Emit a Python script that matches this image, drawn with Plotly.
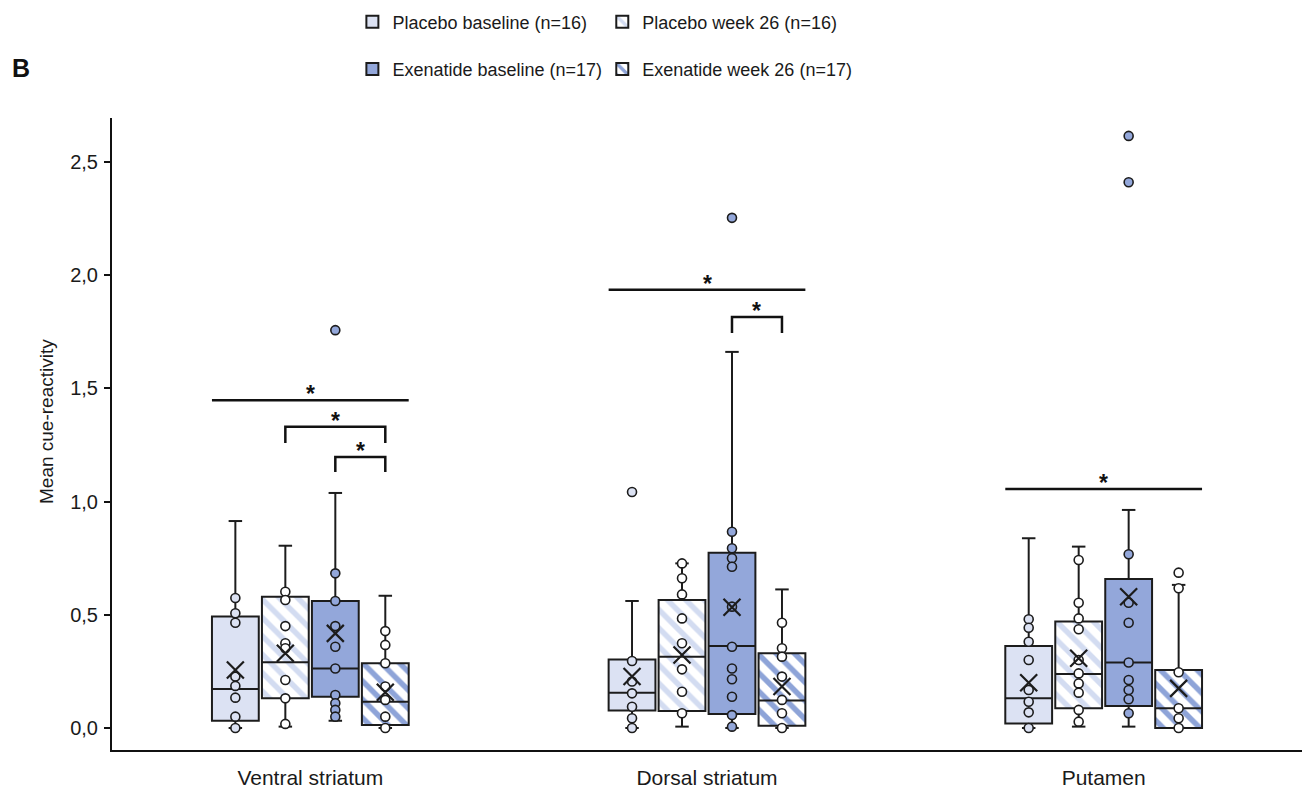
import plotly.graph_objects as go

# ---------------- data ----------------
regions = ["Ventral striatum", "Dorsal striatum", "Putamen"]
series_names = ["Placebo baseline (n=16)", "Placebo week 26 (n=16)",
                "Exenatide baseline (n=17)", "Exenatide week 26 (n=17)"]
y_title = "Mean cue-reactivity"
y_ticks = [0, 0.5, 1.0, 1.5, 2.0, 2.5]

# Placebo baseline
pb_q1 = [0.032, 0.077, 0.020]
pb_med = [0.172, 0.156, 0.131]
pb_q3 = [0.492, 0.303, 0.362]
pb_lo = [0.000, 0.000, 0.000]
pb_hi = [0.914, 0.561, 0.838]
pb_mean = [0.256, 0.227, 0.200]
pb_pts = [[0.574, 0.507, 0.465, 0.227, 0.186, 0.134, 0.050, 0.000],
          [1.042, 0.296, 0.205, 0.153, 0.094, 0.043, 0.000],
          [0.480, 0.443, 0.381, 0.300, 0.168, 0.116, 0.069, 0.000]]

# Placebo week 26
pw_q1 = [0.131, 0.075, 0.087]
pw_med = [0.290, 0.315, 0.239]
pw_q3 = [0.580, 0.565, 0.470]
pw_lo = [0.006, 0.006, 0.006]
pw_hi = [0.805, 0.727, 0.801]
pw_mean = [0.330, 0.322, 0.308]
pw_pts = [[0.602, 0.565, 0.450, 0.374, 0.352, 0.212, 0.131, 0.018],
          [0.727, 0.661, 0.590, 0.484, 0.374, 0.259, 0.160, 0.065],
          [0.742, 0.553, 0.484, 0.436, 0.300, 0.241, 0.197, 0.156, 0.080, 0.028]]

# Exenatide baseline
eb_q1 = [0.138, 0.062, 0.097]
eb_med = [0.263, 0.362, 0.289]
eb_q3 = [0.561, 0.774, 0.658]
eb_lo = [0.032, 0.000, 0.006]
eb_hi = [1.038, 1.661, 0.963]
eb_mean = [0.418, 0.533, 0.580]
eb_pts = [[1.757, 0.683, 0.561, 0.450, 0.359, 0.263, 0.146, 0.109, 0.080, 0.050],
          [2.253, 0.867, 0.794, 0.750, 0.712, 0.536, 0.359, 0.263, 0.215, 0.138, 0.057, 0.006],
          [2.615, 2.410, 0.767, 0.553, 0.465, 0.289, 0.212, 0.168, 0.127, 0.065]]

# Exenatide week 26
ew_q1 = [0.013, 0.010, 0.000]
ew_med = [0.116, 0.121, 0.087]
ew_q3 = [0.286, 0.330, 0.256]
ew_lo = [0.000, 0.000, 0.000]
ew_hi = [0.584, 0.612, 0.632]
ew_mean = [0.158, 0.183, 0.175]
ew_pts = [[0.428, 0.367, 0.286, 0.183, 0.124, 0.050, 0.000],
          [0.465, 0.352, 0.315, 0.227, 0.124, 0.065, 0.000],
          [0.686, 0.617, 0.246, 0.087, 0.043, 0.000]]

# significance markers: (region, from series, to series, height, drop height or None)
sig_region = [0, 0, 0, 1, 1, 2]
sig_from = [0, 1, 2, 0, 2, 0]
sig_to = [3, 3, 3, 3, 3, 3]
sig_y = [1.447, 1.330, 1.197, 1.935, 1.815, 1.056]
sig_drop = [None, 1.259, 1.131, None, 1.745, None]
sig_label = ["*", "*", "*", "*", "*", "*"]

# ---------------- styling ----------------
offsets = [-0.189, -0.063, 0.063, 0.189]
box_w = 0.118
cap_w = 0.034
edge = "#1c1c1c"
c_light = "#dce2f3"
c_dark = "#93a7da"
fills = [c_light, "white", c_dark, "white"]
patterns = [None, "#d3dcf1", None, "#8ea4d8"]
point_fill = [c_light, "white", c_dark, "white"]

Q1 = [pb_q1, pw_q1, eb_q1, ew_q1]
MED = [pb_med, pw_med, eb_med, ew_med]
Q3 = [pb_q3, pw_q3, eb_q3, ew_q3]
LO = [pb_lo, pw_lo, eb_lo, ew_lo]
HI = [pb_hi, pw_hi, eb_hi, ew_hi]
MEAN = [pb_mean, pw_mean, eb_mean, ew_mean]
PTS = [pb_pts, pw_pts, eb_pts, ew_pts]

fig = go.Figure()
font_family = "Arial, Liberation Sans, sans-serif"

legend_names = ["legend", "legend2", "legend3", "legend4"]

for s in range(4):
    xs = [r + offsets[s] for r in range(3)]
    # whiskers + caps
    wx, wy = [], []
    for r in range(3):
        x0 = xs[r]
        wx += [x0, x0, None, x0 - cap_w / 2, x0 + cap_w / 2, None,
               x0, x0, None, x0 - cap_w / 2, x0 + cap_w / 2, None]
        wy += [Q3[s][r], HI[s][r], None, HI[s][r], HI[s][r], None,
               Q1[s][r], LO[s][r], None, LO[s][r], LO[s][r], None]
    fig.add_trace(go.Scatter(x=wx, y=wy, mode="lines", line=dict(color=edge, width=2),
                             showlegend=False, hoverinfo="skip"))
    # boxes
    marker = dict(color=fills[s], line=dict(color=edge, width=2))
    if patterns[s]:
        marker["pattern"] = dict(shape="\\", fgcolor=patterns[s], bgcolor="white",
                                 size=13, solidity=0.42, fillmode="replace")
    fig.add_trace(go.Bar(x=xs, base=Q1[s], y=[Q3[s][r] - Q1[s][r] for r in range(3)],
                         width=box_w, marker=marker, name=series_names[s],
                         legend=legend_names[s], showlegend=True))

for s in range(4):
    xs = [r + offsets[s] for r in range(3)]
    # medians
    mx, my = [], []
    for r in range(3):
        mx += [xs[r] - box_w / 2, xs[r] + box_w / 2, None]
        my += [MED[s][r], MED[s][r], None]
    fig.add_trace(go.Scatter(x=mx, y=my, mode="lines", line=dict(color=edge, width=2),
                             showlegend=False, hoverinfo="skip"))
    # points
    px, py = [], []
    for r in range(3):
        px += [xs[r]] * len(PTS[s][r])
        py += PTS[s][r]
    fig.add_trace(go.Scatter(x=px, y=py, mode="markers",
                             marker=dict(symbol="circle", size=9, color=point_fill[s],
                                         line=dict(color=edge, width=1.6)),
                             showlegend=False))
    # means
    fig.add_trace(go.Scatter(x=xs, y=MEAN[s], mode="markers",
                             marker=dict(symbol="x-thin", size=17,
                                         line=dict(color=edge, width=2.2)),
                             showlegend=False))

# significance lines
lx, ly = [], []
for i in range(len(sig_y)):
    r = sig_region[i]
    if sig_drop[i] is None:
        x0 = r + offsets[sig_from[i]] - box_w / 2
        x1 = r + offsets[sig_to[i]] + box_w / 2
        lx += [x0, x1, None]
        ly += [sig_y[i], sig_y[i], None]
    else:
        x0 = r + offsets[sig_from[i]]
        x1 = r + offsets[sig_to[i]]
        lx += [x0, x0, x1, x1, None]
        ly += [sig_drop[i], sig_y[i], sig_y[i], sig_drop[i], None]
    fig.add_annotation(x=(x0 + x1) / 2, y=sig_y[i], text="<b>" + sig_label[i] + "</b>",
                       showarrow=False, xref="x", yref="y", yanchor="bottom", yshift=-9,
                       font=dict(size=23, color="#111", family=font_family))
fig.add_trace(go.Scatter(x=lx, y=ly, mode="lines", line=dict(color="#111", width=2.5),
                         showlegend=False, hoverinfo="skip"))

# panel label
fig.add_annotation(x=-0.0856, y=1.079, xref="paper", yref="paper", text="<b>B</b>",
                   showarrow=False, xanchor="left", yanchor="middle",
                   font=dict(size=25, color="#111", family=font_family))

# y-axis title (placed as annotation to match position)
fig.add_annotation(x=-0.0546, y=0.519, xref="paper", yref="paper", text=y_title,
                   showarrow=False, textangle=-90, xanchor="center", yanchor="middle",
                   font=dict(size=19, color="#1a1a1a", family=font_family))

leg_common = dict(orientation="v", xanchor="left", yanchor="middle",
                  font=dict(size=18, color="#1a1a1a", family=font_family),
                  bgcolor="rgba(0,0,0,0)", itemclick=False)
col_x = [0.202, 0.412]
row_y = [1.152, 1.077]
leg_pos = [(col_x[0], row_y[0]), (col_x[1], row_y[0]), (col_x[0], row_y[1]), (col_x[1], row_y[1])]

layout_legends = {}
for s in range(4):
    layout_legends[legend_names[s]] = dict(x=leg_pos[s][0], y=leg_pos[s][1], **leg_common)

fig.update_layout(
    width=1303, height=794,
    margin=dict(l=112, r=1, t=118, b=44, pad=0),
    plot_bgcolor="white", paper_bgcolor="white",
    barmode="overlay",
    separators=",.",
    font=dict(family=font_family, size=16, color="#1a1a1a"),
    **layout_legends,
    xaxis=dict(range=[-0.5, 2.5], tickvals=[0, 1, 2], ticktext=regions,
               showline=True, linecolor="#111", linewidth=2, ticks="",
               showgrid=False, zeroline=False, tickfont=dict(size=21),
               ticklabelstandoff=8),
    yaxis=dict(range=[-0.0972, 2.694], tickvals=y_ticks,
               tickformat=".1f", showline=True, linecolor="#111", linewidth=2,
               ticks="outside", ticklen=6, tickwidth=1.5, tickcolor="#111",
               showgrid=False, zeroline=False, tickfont=dict(size=20),
               ticklabelstandoff=2),
)

fig.write_html("out.html")
